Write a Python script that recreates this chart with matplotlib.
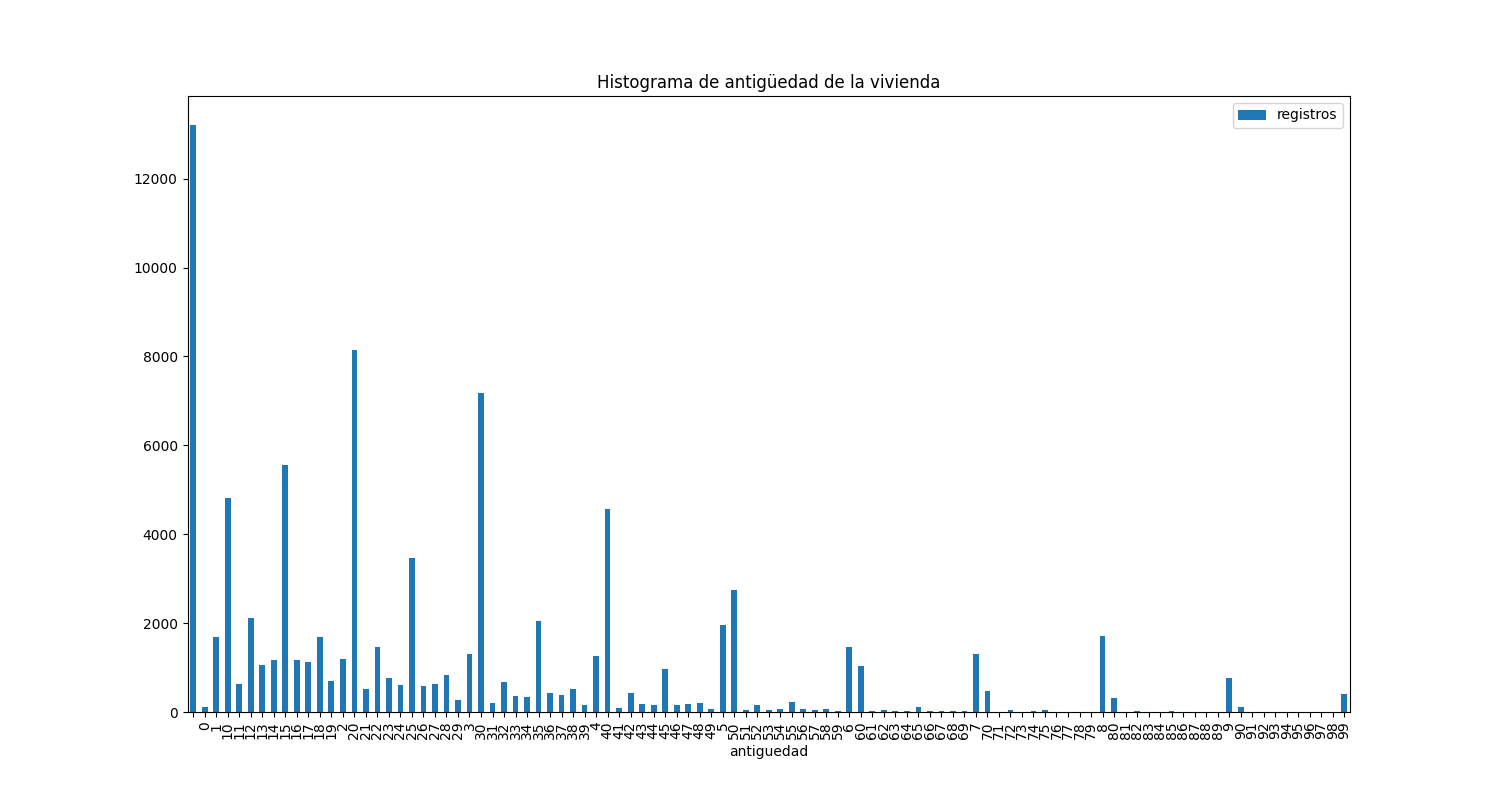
import matplotlib
matplotlib.use("Agg")
import matplotlib.pyplot as plt

# categories sorted as strings (first one is an empty label)
categorias = ([""] + ["0", "1"] + [str(i) for i in range(10, 20)] + ["2"]
              + [str(i) for i in range(20, 30)] + ["3"]
              + [str(i) for i in range(30, 40)] + ["4"]
              + [str(i) for i in range(40, 50)] + ["5"]
              + [str(i) for i in range(50, 60)] + ["6"]
              + [str(i) for i in range(60, 70)] + ["7"]
              + [str(i) for i in range(70, 80)] + ["8"]
              + [str(i) for i in range(80, 90)] + ["9"]
              + [str(i) for i in range(90, 100)])

registros = [
    13200, 112, 1685,
    # 10..19
    4810, 629, 2112, 1056, 1168, 5550, 1168, 1131, 1685, 697,
    1191,
    # 20..29
    8135, 517, 1461, 764, 607, 3456, 584, 629, 831, 270,
    1303,
    # 30..39
    7168, 202, 674, 360, 337, 2045, 427, 382, 517, 157,
    1258,
    # 40..49
    4558, 90, 427, 180, 157, 966, 157, 180, 202, 67,
    1955,
    # 50..59
    2741, 45, 157, 45, 67, 225, 67, 45, 67, 22,
    1461,
    # 60..69
    1034, 22, 45, 22, 22, 112, 22, 22, 22, 22,
    1303,
    # 70..79
    472, 0, 45, 0, 22, 45, 0, 0, 0, 0,
    1708,
    # 80..89
    315, 0, 22, 0, 0, 22, 0, 0, 0, 0,
    764,
    # 90..99
    112, 0, 0, 0, 0, 0, 0, 0, 0, 404,
]

fig, ax = plt.subplots(figsize=(15, 8), dpi=100)
pos = list(range(len(categorias)))
ax.bar(pos, registros, width=0.5, color="#1f77b4", label="registros")
ax.set_xlim(-0.5, len(categorias) - 0.5)
ax.set_xticks(pos)
ax.set_xticklabels(categorias, rotation=90)
ax.set_xlabel("antiguedad")
ax.set_title("Histograma de antigüedad de la vivienda")
ax.legend(loc="upper right")

fig.savefig("out.png")
